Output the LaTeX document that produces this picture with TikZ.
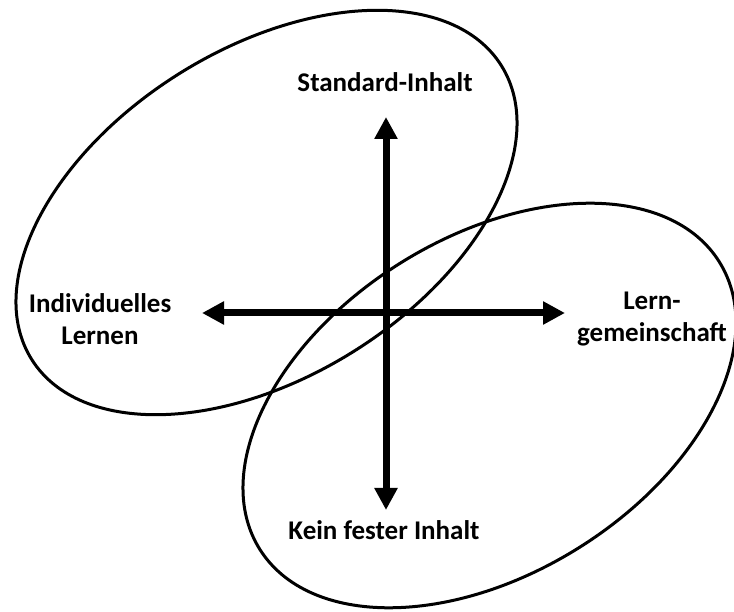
\documentclass[tikz,border=0pt]{standalone}
\usepackage{fontspec}
\setmainfont{Carlito}
\usetikzlibrary{arrows.meta}
\tikzset{
  ring/.style={draw=black, line width=3pt},
  axis/.style={draw=black, line width=7pt, {Triangle[width=22pt,length=22pt]}-{Triangle[width=22pt,length=22pt]}},
  lbl/.style={font=\bfseries\fontsize{27}{32}\selectfont, align=center, inner sep=0pt}
}
\begin{document}
\begin{tikzpicture}[x=1pt,y=1pt]
\useasboundingbox (0,0) rectangle (734,611);
\fill[white] (0,0) rectangle (734,611);
% ellipses
\draw[ring, rotate around={32:(266.5,398.5)}] (266.5,398.5) ellipse [x radius=277, y radius=164];
\draw[ring, rotate around={32:(489.5,205.5)}] (489.5,205.5) ellipse [x radius=271, y radius=168];
% arrow end points
\coordinate (up) at (386,494);
\coordinate (down) at (386,101);
\coordinate (left) at (202,298);
\coordinate (right) at (565,298);
\draw[axis] (down) -- (up);
\draw[axis] (left) -- (right);
% labels
\node[lbl] (std) at (385,529) {Standard-Inhalt};
\node[lbl] (ind) at (100,292) {Individuelles\\Lernen};
\node[lbl] (lg) at (652,292) {Lern-\\gemeinschaft};
\node[lbl] (kein) at (384,81) {Kein fester Inhalt};
\end{tikzpicture}
\end{document}
